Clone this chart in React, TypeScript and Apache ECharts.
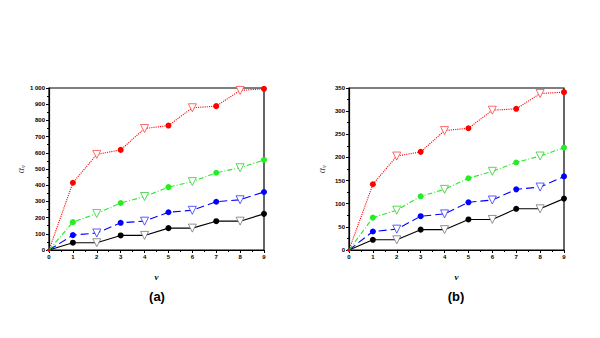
import React, { useEffect, useRef } from "react";
import * as echarts from "echarts";

const vValues = [0, 1, 2, 3, 4, 5, 6, 7, 8, 9];

const redA = [0, 415, 590, 618, 750, 768, 878, 888, 985, 995];
const greenA = [0, 172, 225, 290, 330, 388, 422, 477, 508, 556];
const blueA = [0, 92, 105, 168, 178, 233, 245, 298, 310, 358];
const blackA = [0, 45, 45, 90, 90, 135, 135, 178, 178, 223];

const redB = [0, 142, 203, 212, 258, 263, 302, 305, 338, 341];
const greenB = [0, 70, 86, 116, 131, 155, 170, 189, 203, 221];
const blueB = [0, 40, 45, 73, 78, 103, 108, 131, 136, 159];
const blackB = [0, 22, 22, 44, 44, 66, 66, 89, 89, 111];

const panelLabels = ["(a)", "(b)"];

export default function App() {
  const ref = useRef<HTMLDivElement>(null);
  useEffect(() => {
    const chart = echarts.init(ref.current!, null, { renderer: "svg" });

    const makeData = (vals: number[], color: string, triBorder: string) =>
      vals.map((y, i) => {
        if (i === 0) {
          return { value: [vValues[i], y], symbol: "circle", symbolSize: 3, itemStyle: { color } };
        }
        if (i % 2 === 1 || i === 9) {
          return { value: [vValues[i], y], symbol: "circle", symbolSize: 6, itemStyle: { color } };
        }
        return {
          value: [vValues[i], y],
          symbol: "triangle",
          symbolRotate: 180,
          symbolSize: 8,
          itemStyle: { color: "#ffffff", borderColor: triBorder, borderWidth: 0.8 },
        };
      });

    const styles = [
      { color: "#ff0000", type: "dotted" as any, tri: "#ff4444" },
      { color: "#22ee22", type: [5, 2, 1, 2] as any, tri: "#33cc33" },
      { color: "#0000ff", type: [8, 4] as any, tri: "#3333ff" },
      { color: "#000000", type: "solid" as any, tri: "#777777" },
    ];

    const dataSets = [
      [redA, greenA, blueA, blackA],
      [redB, greenB, blueB, blackB],
    ];

    const series: any[] = [];
    dataSets.forEach((sets, gi) => {
      sets.forEach((vals, si) => {
        const st = styles[si];
        series.push({
          type: "line",
          xAxisIndex: gi,
          yAxisIndex: gi,
          data: makeData(vals, st.color, st.tri),
          lineStyle: { color: st.color, width: 1.1, type: st.type },
          itemStyle: { color: st.color },
          clip: false,
          z: 2 + (3 - si),
        });
      });
    });

    const tickFont = { fontSize: 6, fontWeight: "bold" as any, color: "#000", fontFamily: "Arial, Liberation Sans, sans-serif" };

    const xAxisCommon = (gi: number) => ({
      type: "value",
      gridIndex: gi,
      min: 0,
      max: 9,
      interval: 1,
      name: "v",
      nameLocation: "middle",
      nameGap: 22,
      nameTextStyle: { fontSize: 9, fontWeight: "bold", fontStyle: "italic", fontFamily: "Liberation Serif, serif", color: "#000" },
      axisLine: { show: true, lineStyle: { color: "#000", width: 1.2 } },
      axisTick: { show: true, inside: false, length: 3, lineStyle: { color: "#000" } },
      minorTick: { show: true, splitNumber: 2, length: 2, lineStyle: { color: "#000" } },
      axisLabel: { ...tickFont, margin: 4 },
      splitLine: { show: false },
    });

    const yAxisCommon = (gi: number, max: number, interval: number) => ({
      type: "value",
      gridIndex: gi,
      min: 0,
      max,
      interval,
      name: "{a|α}{s|v}",
      nameLocation: "middle",
      nameGap: 22,
      nameRotate: 90,
      nameTextStyle: {
        rich: {
          a: { fontSize: 10, fontStyle: "italic", fontFamily: "Liberation Serif, serif", color: "#444" },
          s: { fontSize: 7, fontStyle: "italic", fontFamily: "Liberation Serif, serif", color: "#444", verticalAlign: "bottom", padding: [4, 0, 0, 0] },
        },
      },
      axisLine: { show: true, lineStyle: { color: "#000", width: 1.2 } },
      axisTick: { show: true, inside: false, length: 3, lineStyle: { color: "#000" } },
      minorTick: { show: true, splitNumber: 2, length: 2, lineStyle: { color: "#000" } },
      axisLabel: {
        ...tickFont,
        margin: 4,
        formatter: (v: number) => (v >= 1000 ? "1 000" : String(v)),
      },
      splitLine: { show: false },
    });

    const labelStyle = { fontSize: 13, fontWeight: "bold", fontFamily: "Liberation Sans, Arial, sans-serif", fill: "#000", align: "center", verticalAlign: "middle" };

    chart.setOption({
      animation: false,
      backgroundColor: "#ffffff",
      grid: [
        { left: 49, top: 88, width: 215, height: 162, show: true, borderColor: "#000", borderWidth: 1.2, backgroundColor: "transparent" },
        { left: 349, top: 88, width: 215, height: 162, show: true, borderColor: "#000", borderWidth: 1.2, backgroundColor: "transparent" },
      ],
      xAxis: [xAxisCommon(0), xAxisCommon(1)],
      yAxis: [yAxisCommon(0, 1000, 100), yAxisCommon(1, 350, 50)],
      series,
      graphic: [
        { type: "text", x: 157, y: 296, style: { ...labelStyle, text: panelLabels[0] } },
        { type: "text", x: 456, y: 296, style: { ...labelStyle, text: panelLabels[1] } },
      ],
    });
    return () => chart.dispose();
  }, []);

  return <div ref={ref} style={{ width: 600, height: 338, position: "absolute", left: 0, top: 0 }} />;
}
